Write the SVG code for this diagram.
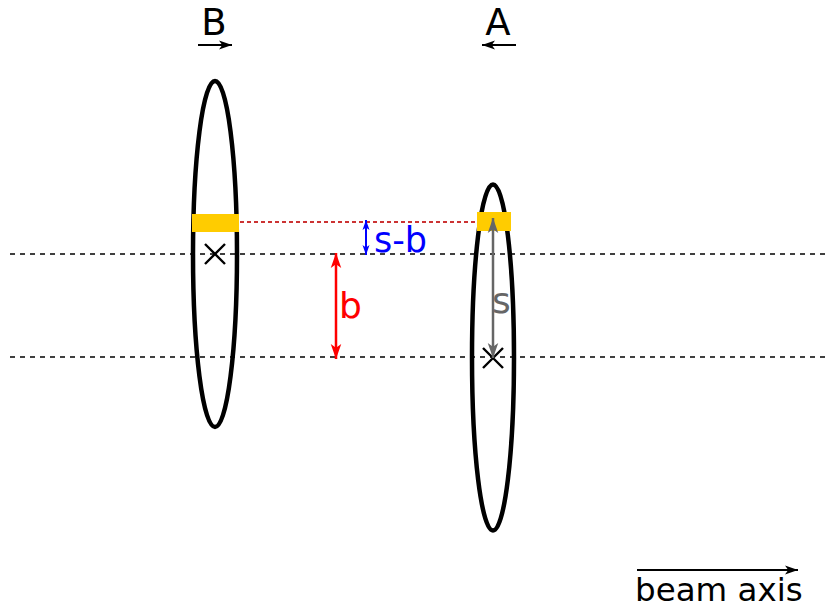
<svg xmlns="http://www.w3.org/2000/svg" width="829" height="608" viewBox="0 0 829 608">
<style>
.lbl{font-family:"DejaVu Sans",sans-serif}
.ring{fill:none;stroke:#000;stroke-width:4.5}
.axis{stroke:#000;stroke-width:1.3;stroke-dasharray:5,5;fill:none}
.cross{stroke:#000;stroke-width:2.4;fill:none}
</style>
<defs>
<marker id="ak" viewBox="0 0 10 10" refX="10" refY="5" markerWidth="13" markerHeight="13" markerUnits="userSpaceOnUse" orient="auto-start-reverse"><path d="M0,1.5 L10,5 L0,8.5 L2.5,5 Z" fill="#000"/></marker>
<marker id="ar" viewBox="0 0 10 10" refX="10" refY="5" markerWidth="15" markerHeight="15" markerUnits="userSpaceOnUse" orient="auto-start-reverse"><path d="M0,1.5 L10,5 L0,8.5 L2.5,5 Z" fill="#f00"/></marker>
<marker id="ab" viewBox="0 0 10 10" refX="10" refY="5" markerWidth="10" markerHeight="10" markerUnits="userSpaceOnUse" orient="auto-start-reverse"><path d="M0,1.5 L10,5 L0,8.5 L2.5,5 Z" fill="#00f"/></marker>
<marker id="ag" viewBox="0 0 10 10" refX="10" refY="5" markerWidth="15" markerHeight="15" markerUnits="userSpaceOnUse" orient="auto-start-reverse"><path d="M0,1.5 L10,5 L0,8.5 L2.5,5 Z" fill="#666"/></marker>
</defs>
<g id="axes">
<line class="axis" x1="10" y1="254" x2="829" y2="254"/>
<line class="axis" x1="10" y1="357" x2="829" y2="357"/>
</g>
<g id="bunchB">
<ellipse class="ring" cx="215" cy="254" rx="22" ry="173"/>
<rect x="192" y="214" width="47" height="18" fill="#fc0"/>
<path class="cross" d="M205,244 L225,264 M225,244 L205,264"/>
<text class="lbl" x="214" y="35" font-size="37" text-anchor="middle">B</text>
</g>
<g id="bunchA">
<ellipse class="ring" cx="493" cy="357.5" rx="21" ry="173"/>
<rect x="477" y="212" width="34" height="19" fill="#fc0"/>
<path class="cross" d="M483,348 L503,368 M503,348 L483,368"/>
<text class="lbl" x="498" y="35" font-size="37" text-anchor="middle">A</text>
</g>
<g id="connectors">
<line x1="198" y1="45" x2="232" y2="45" stroke="#000" stroke-width="2" marker-end="url(#ak)"/>
<line x1="516" y1="45" x2="482" y2="45" stroke="#000" stroke-width="2" marker-end="url(#ak)"/>
<line x1="240" y1="222" x2="477" y2="222" stroke="#c33" stroke-width="2" stroke-dasharray="4,3"/>
<line x1="366" y1="220" x2="366" y2="255" stroke="#00f" stroke-width="2" marker-start="url(#ab)" marker-end="url(#ab)"/>
<line x1="336" y1="253" x2="336" y2="359" stroke="#f00" stroke-width="2.5" marker-start="url(#ar)" marker-end="url(#ar)"/>
<line x1="493" y1="218" x2="493" y2="358" stroke="#666" stroke-width="2.5" marker-start="url(#ag)" marker-end="url(#ag)"/>
<line x1="637" y1="570" x2="798" y2="570" stroke="#000" stroke-width="2" marker-end="url(#ak)"/>
</g>
<g id="labels">
<text class="lbl" x="374" y="252" font-size="35" fill="#00f">s-b</text>
<text class="lbl" x="339" y="318" font-size="36" fill="#f00">b</text>
<text class="lbl" x="492" y="313" font-size="36" fill="#666">s</text>
<text class="lbl" x="635" y="601" font-size="32.5">beam axis</text>
</g>
</svg>
